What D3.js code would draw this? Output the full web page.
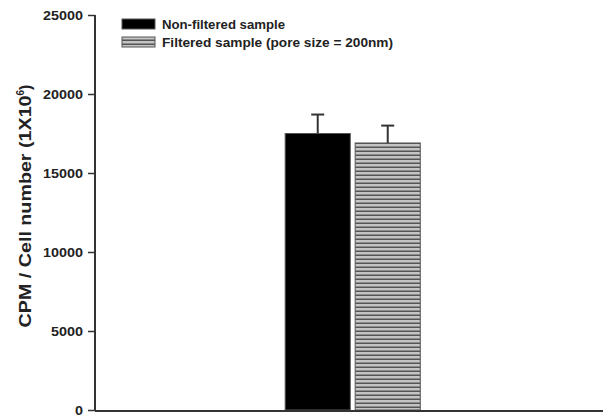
<!DOCTYPE html>
<html>
<head>
<meta charset="utf-8">
<script src="https://cdn.jsdelivr.net/npm/d3@7"></script>
<style>
  body { margin: 0; background: #fff; }
  svg text { font-family: Arial, "Liberation Sans", sans-serif; font-weight: bold; fill: #222; }
</style>
</head>
<body>
<div id="chart"></div>
<script>
//数据
var groups = ["sample"];
var seriesNames = ["Non-filtered sample", "Filtered sample (pore size = 200nm)"];
var meanValues = [17500, 16900];
var errorValues = [1200, 1100];
var yTicks = [0, 5000, 10000, 15000, 20000, 25000];

var width = 603, height = 419;
var margin = {top: 15, right: 0, bottom: 9, left: 95};

var svg = d3.select("#chart").append("svg")
    .attr("width", width)
    .attr("height", height);

//条纹填充
var defs = svg.append("defs");
var pat = defs.append("pattern")
    .attr("id", "stripes")
    .attr("patternUnits", "userSpaceOnUse")
    .attr("width", 8)
    .attr("height", 4);
pat.append("rect").attr("width", 8).attr("height", 4).attr("fill", "#c4c4c4");
pat.append("rect").attr("y", 2.5).attr("width", 8).attr("height", 1.5).attr("fill", "#555");

var yScale = d3.scaleLinear()
    .domain([0, 25000])
    .range([height - margin.bottom, margin.top]);

var xOuter = d3.scaleBand()
    .domain(groups)
    .range([margin.left, width - margin.right])
    .paddingOuter(1.38)
    .paddingInner(0)
    .align(0.51);

var xInner = d3.scaleBand()
    .domain(seriesNames)
    .range([0, xOuter.bandwidth()])
    .paddingInner(0.07);

var fills = ["#000", "url(#stripes)"];

var data = seriesNames.map(function (s, i) {
    return {name: s, value: meanValues[i], err: errorValues[i], fill: fills[i]};
});

var g = svg.append("g")
    .attr("transform", "translate(" + xOuter(groups[0]) + ",0)");

g.selectAll("rect.bar")
    .data(data)
    .enter()
    .append("rect")
    .attr("class", "bar")
    .attr("x", function (d) { return xInner(d.name); })
    .attr("y", function (d) { return yScale(d.value); })
    .attr("width", xInner.bandwidth())
    .attr("height", function (d) { return yScale(0) - yScale(d.value); })
    .attr("fill", function (d) { return d.fill; })
    .attr("stroke", "#555")
    .attr("stroke-width", 1);

//误差线
g.selectAll("line.err")
    .data(data)
    .enter()
    .append("line")
    .attr("x1", function (d) { return xInner(d.name) + xInner.bandwidth() / 2; })
    .attr("x2", function (d) { return xInner(d.name) + xInner.bandwidth() / 2; })
    .attr("y1", function (d) { return yScale(d.value); })
    .attr("y2", function (d) { return yScale(d.value + d.err); })
    .attr("stroke", "#333")
    .attr("stroke-width", 2);

g.selectAll("line.cap")
    .data(data)
    .enter()
    .append("line")
    .attr("x1", function (d) { return xInner(d.name) + xInner.bandwidth() / 2 - 6.5; })
    .attr("x2", function (d) { return xInner(d.name) + xInner.bandwidth() / 2 + 6.5; })
    .attr("y1", function (d) { return yScale(d.value + d.err); })
    .attr("y2", function (d) { return yScale(d.value + d.err); })
    .attr("stroke", "#333")
    .attr("stroke-width", 2);

//坐标轴
var yAxis = d3.axisLeft(yScale)
    .tickValues(yTicks)
    .tickFormat(d3.format("d"))
    .tickSize(7)
    .tickPadding(5);

var ga = svg.append("g")
    .attr("transform", "translate(" + margin.left + ",0)")
    .call(yAxis);
ga.select(".domain").attr("stroke", "#333").attr("stroke-width", 2)
    .attr("d", "M0," + yScale(25000) + "V" + (yScale(0) + 1));
ga.selectAll(".tick line").attr("stroke", "#333").attr("stroke-width", 1.5);
ga.selectAll(".tick text")
    .attr("font-size", 13)
    .attr("font-family", "Arial, 'Liberation Sans', sans-serif")
    .attr("font-weight", "bold")
    .attr("fill", "#222")
    .attr("textLength", function (d) { return String(d).length * 8; })
    .attr("lengthAdjust", "spacingAndGlyphs");

svg.append("line")
    .attr("x1", margin.left)
    .attr("x2", width)
    .attr("y1", yScale(0) + 1)
    .attr("y2", yScale(0) + 1)
    .attr("stroke", "#333")
    .attr("stroke-width", 2);

//纵轴标题
var yTitle = svg.append("text")
    .attr("transform", "translate(31," + 206 + ") rotate(-90)")
    .attr("text-anchor", "middle")
    .attr("font-size", 16);
yTitle.append("tspan").attr("textLength", 232).attr("lengthAdjust", "spacingAndGlyphs").text("CPM / Cell number (1X10");
yTitle.append("tspan").attr("font-size", 10).attr("dy", -7).text("6");
yTitle.append("tspan").attr("dy", 7).text(")");

//图例
var legend = svg.append("g").attr("class", "legend");
var lg = legend.selectAll("g")
    .data(data)
    .enter()
    .append("g")
    .attr("transform", function (d, i) { return "translate(122," + (19 + i * 18) + ")"; });
lg.append("rect")
    .attr("width", 33)
    .attr("height", 10)
    .attr("fill", function (d) { return d.fill; })
    .attr("stroke", "#555")
    .attr("stroke-width", 1);
lg.append("text")
    .attr("x", 40)
    .attr("y", 10)
    .attr("font-size", 13)
    .attr("textLength", function (d, i) { return i === 0 ? 123 : 231; })
    .attr("lengthAdjust", "spacingAndGlyphs")
    .text(function (d) { return d.name; });
</script>
</body>
</html>
